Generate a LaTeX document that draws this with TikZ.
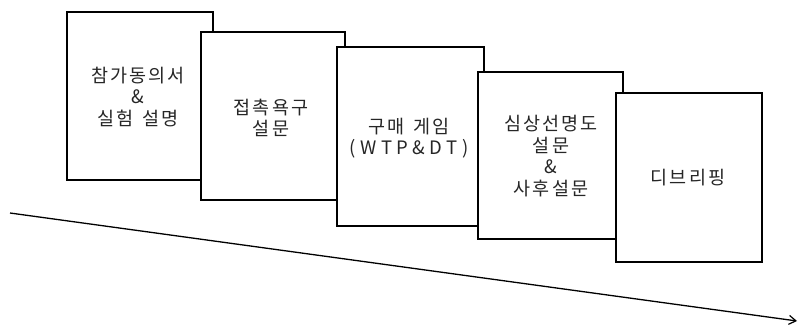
\documentclass[tikz,border=0pt]{standalone}
\usepackage{fontspec}
\newfontfamily\kr[LetterSpace=11]{Noto Sans CJK KR}
\newfontfamily\krwide[LetterSpace=24]{Noto Sans CJK KR}
\usetikzlibrary{arrows.meta}
\newcommand{\wsp}{\hspace{0.45em}}
\begin{document}
\begin{tikzpicture}[x=1pt,y=-1pt,
  stagebox/.style={draw=black,line width=2.8pt,fill=white},
  stagetext/.style={font=\kr\fontsize{18.5}{21.5}\selectfont,align=center,text=black!85},
  flow/.style={line width=1.3pt,-{Straight Barb[length=7pt,width=9pt,line width=1.2pt]}}]
\useasboundingbox (0,0) rectangle (800,329);
\draw[stagebox] (67,12) rectangle (213,180);
\node[stagetext] (t1) at (138,97) {참가동의서\\\&\\실험\wsp 설명};
\draw[stagebox] (201,32) rectangle (345,200);
\node[stagetext] (t2) at (271,118) {접촉욕구\\설문};
\draw[stagebox] (337,47) rectangle (484,226);
\node[stagetext] (t3) at (409,138) {구매\wsp 게임\\{\krwide\fontsize{18.5}{21.5}\selectfont (WTP\&DT)}};
\draw[stagebox] (478,72) rectangle (623,239);
\node[stagetext] (t4) at (551,156) {심상선명도\\설문\\\&\\사후설문};
\draw[stagebox] (616,93) rectangle (762,262);
\node[stagetext] (t5) at (688,178) {디브리핑};
\coordinate (a0) at (10,213);
\coordinate (a1) at (797,321);
\draw[flow] (a0) -- (a1);
\end{tikzpicture}
\end{document}
